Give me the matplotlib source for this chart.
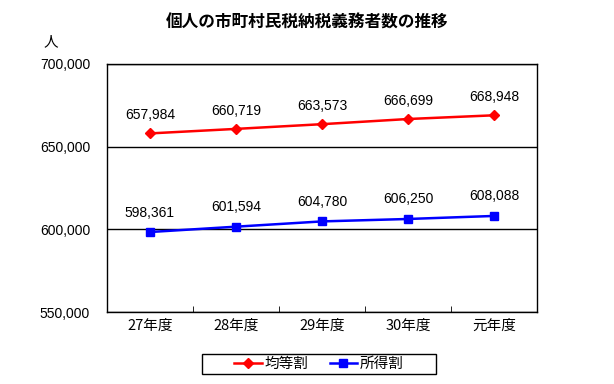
import numpy as np
import matplotlib.pyplot as plt
from matplotlib.patches import Rectangle

plt.rcParams['font.family'] = ['Noto Sans CJK JP', 'DejaVu Sans']

# --- データ ---
years = ['27年度', '28年度', '29年度', '30年度', '元年度']
kintou = [657984, 660719, 663573, 666699, 668948]    # 均等割
shotoku = [598361, 601594, 604780, 606250, 608088]   # 所得割
# ---------------

NUM_FONT = 'Liberation Sans'

fig = plt.figure(figsize=(6.14, 3.84), dpi=100)
ax = fig.add_axes([0.174, 0.1875, 0.701, 0.646])

x = np.arange(len(years))
ax.plot(x, kintou, color='red', marker='D', markersize=5, lw=1.8, label='均等割')
ax.plot(x, shotoku, color='blue', marker='s', markersize=6, lw=1.8, label='所得割')

for xi, v in zip(x, kintou):
    ax.annotate(f'{v:,}', (xi, v), xytext=(0, 8), textcoords='offset points',
                ha='center', va='bottom', fontsize=10, family=NUM_FONT)
for xi, v in zip(x, shotoku):
    ax.annotate(f'{v:,}', (xi, v), xytext=(0, 9), textcoords='offset points',
                ha='center', va='bottom', fontsize=10, family=NUM_FONT)

yt = [550000, 600000, 650000, 700000]
ax.set_ylim(550000, 700000)
ax.set_xlim(-0.5, len(years) - 0.5)
ax.set_yticks(yt)
ax.set_yticklabels([f'{v:,}' for v in yt], family=NUM_FONT, fontsize=10)
ax.tick_params(axis='y', length=0, pad=12)
ax.yaxis.grid(True, color='black', lw=1)
ax.set_axisbelow(True)

ax.set_xticks(x)
ax.set_xticklabels(years, fontsize=10.5)
ax.set_xticks(np.arange(len(years) + 1) - 0.5, minor=True)
ax.tick_params(axis='x', which='major', length=0, pad=5)
ax.tick_params(axis='x', which='minor', direction='in', length=4)

for s in ax.spines.values():
    s.set_linewidth(1)

fig.text(0.5, 0.94, '個人の市町村民税納税義務者数の推移', ha='center', va='center',
         fontsize=12, fontweight='bold')
fig.text(0.082, 0.89, '人', ha='center', va='center', fontsize=10.5)

# 凡例: 項目は枠の内側に広げ、枠は別に描く
leg = fig.legend(loc='center', bbox_to_anchor=(0.381, 0.026, 0.277, 0.052),
                 mode='expand', ncol=2, frameon=False, fontsize=10.5,
                 handlelength=1.9, borderpad=0, handletextpad=0.2,
                 borderaxespad=0)
fig.patches.append(Rectangle((0.329, 0.026), 0.381, 0.052, transform=fig.transFigure,
                             fill=False, edgecolor='black', lw=1))

plt.savefig('out.png', dpi=100)
plt.close()
